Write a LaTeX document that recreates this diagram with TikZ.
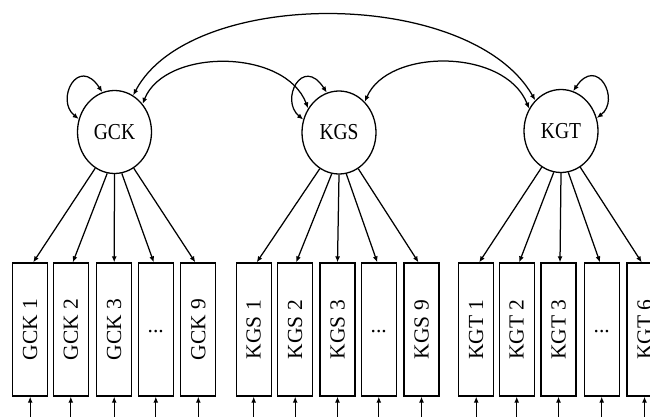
\documentclass[tikz,border=0pt]{standalone}
\usepackage{fontspec}
\setmainfont{Liberation Serif}
\usetikzlibrary{arrows.meta,shapes.geometric}
\tikzset{
  lat/.style={draw, ellipse, minimum width=74pt, minimum height=83pt, inner sep=0pt, line width=1.3pt, font=\fontsize{19.5}{20}\selectfont},
  ind/.style={draw, rectangle, minimum width=35pt, minimum height=133pt, inner sep=0pt, line width=1.3pt, font=\fontsize{21.5}{22}\selectfont},
  arr/.style={line width=1.25pt, -{Latex[length=6pt,width=5pt]}},
  darr/.style={line width=1.25pt, {Latex[length=6pt,width=5pt]}-{Latex[length=6pt,width=5pt]}},
}
\begin{document}
\begin{tikzpicture}[x=1pt,y=-1pt]
\useasboundingbox (0,0) rectangle (650,417);
\clip (0,0) rectangle (650,417);
% latent variables
\node[lat] (gck) at (114.5,132) {\scalebox{1}[1.17]{GCK}};
\node[lat] (kgs) at (339,132.5) {\scalebox{1}[1.17]{KGS}};
\node[lat] (kgt) at (561,131) {\scalebox{1}[1.17]{KGT}};
% indicators
\foreach \n/\x/\t in {g1/30.2/GCK 1, g2/70.8/GCK 2, g3/114.2/GCK 3, g9/198.3/GCK 9,
                      s1/253.7/KGS 1, s2/295.2/KGS 2, s3/337.5/KGS 3, s9/421.5/KGS 9,
                      t1/476.2/KGT 1, t2/516.7/KGT 2, t3/558.5/KGT 3, t6/644.5/KGT 6}{
  \node[ind] (\n) at (\x,329.5) {\rotatebox{90}{\t}};
}
\foreach \n/\x in {gd/155.8, sd/378.8, td/601.7}{
  \node[ind] (\n) at (\x,329.5) {\raisebox{-6pt}{...}};
}
% error arrows
\foreach \n in {g1,g2,g3,gd,g9,s1,s2,s3,sd,s9,t1,t2,t3,td,t6}{
  \coordinate (\n-e) at ([yshift=-30pt]\n.south);
  \draw[arr] (\n-e) -- (\n.south);
}
% loadings
\draw[arr] (gck.242) -- ([xshift=3pt]g1.north);
\draw[arr] (gck.260) -- ([xshift=2pt]g2.north);
\draw[arr] (gck.270) -- (g3.north);
\draw[arr] (gck.280) -- ([xshift=-2pt]gd.north);
\draw[arr] (gck.298) -- ([xshift=-3pt]g9.north);
\draw[arr] (kgs.242) -- ([xshift=3pt]s1.north);
\draw[arr] (kgs.260) -- ([xshift=1pt]s2.north);
\draw[arr] (kgs.270) -- (s3.north);
\draw[arr] (kgs.280) -- ([xshift=-1.5pt]sd.north);
\draw[arr] (kgs.298) -- ([xshift=-3pt]s9.north);
\draw[arr] (kgt.242) -- ([xshift=3pt]t1.north);
\draw[arr] (kgt.260) -- ([xshift=2.5pt]t2.north);
\draw[arr] (kgt.270) -- ([xshift=1.5pt]t3.north);
\draw[arr] (kgt.280) -- ([xshift=-1.7pt]td.north);
\draw[arr] (kgt.298) -- ([xshift=-2.8pt]t6.north);
% variances
\draw[darr] (gck.160) .. controls (55,100) and (78,55) .. (gck.107);
\draw[darr] (kgs.160) .. controls (279.5,100) and (302.5,55) .. (kgs.107);
\draw[darr] (kgt.20) .. controls (620.5,100) and (597.5,55) .. (kgt.73);
% covariances
\draw[darr] (gck.45) .. controls (165,48) and (285,48) .. (kgs.142);
\draw[darr] (kgs.50) .. controls (388,48) and (505,48) .. (kgt.145);
\draw[darr] (gck.63) .. controls (190,-13) and (470,-13) .. (kgt.130);
\end{tikzpicture}
\end{document}
